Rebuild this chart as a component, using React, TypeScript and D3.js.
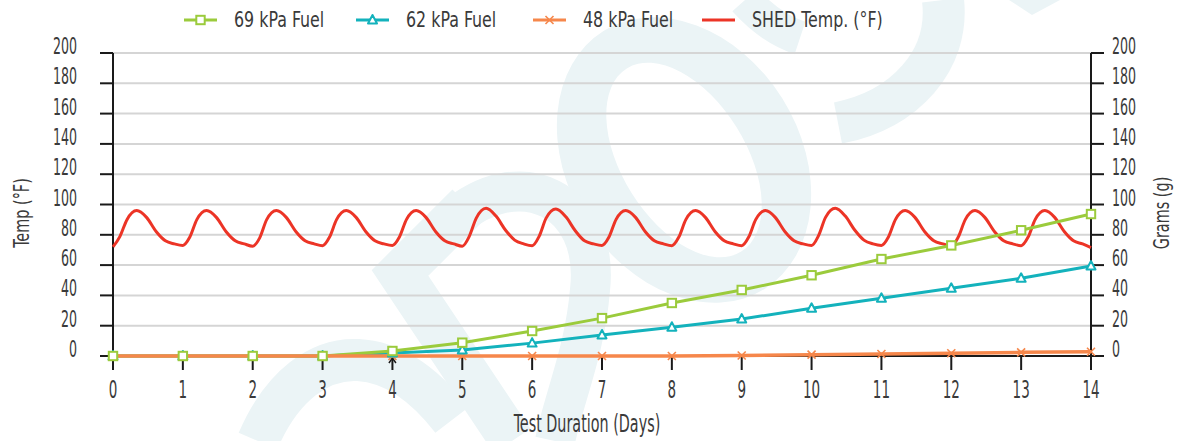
import React from 'react';
import * as d3 from 'd3';

// ---------- DATA ----------
const days = [0, 1, 2, 3, 4, 5, 6, 7, 8, 9, 10, 11, 12, 13, 14];
const fuel69 = [0, 0, 0, 0, 3.3, 8.8, 16.5, 25, 35, 43.6, 53.3, 64, 73, 83, 93.7];
const fuel62 = [0, 0, 0, 0, 2, 4, 8.5, 13.9, 19, 24.4, 31.5, 38.1, 44.7, 51.3, 59.4];
const fuel48 = [0, 0, 0, 0, 0, 0, 0, 0, 0, 0.3, 0.9, 1.3, 1.8, 2.4, 2.8];

// SHED temperature samples within each day (fraction of a day)
const tempPhase = [0, 0.1, 0.2, 0.34, 0.48, 0.62, 0.75, 0.88];
const tempDay0 = [72, 79, 90, 96, 91.5, 82, 76, 74];
const tempDay1 = [73, 78.5, 90, 96, 91.5, 82, 76, 74];
const tempDay2 = [72.5, 78, 90, 96, 91.5, 82, 76, 74];
const tempDay3 = [72.8, 78.5, 90, 96, 91.5, 82, 76, 74];
const tempDay4 = [73, 78.5, 90, 96, 91.5, 82, 76, 74];
const tempDay5 = [72.5, 79, 91, 97.5, 92.5, 83, 76.5, 74];
const tempDay6 = [72.8, 79, 91, 97, 92, 82.5, 76, 74];
const tempDay7 = [73, 78.5, 90, 96, 91.5, 82, 76, 74];
const tempDay8 = [72.8, 78.5, 90, 96, 91.5, 82, 76, 74];
const tempDay9 = [72.8, 78.5, 90, 96, 91.5, 82, 76, 74];
const tempDay10 = [73, 79.5, 91.5, 97.5, 92.5, 83, 76.5, 74];
const tempDay11 = [73, 78.5, 90, 96, 91.5, 82, 76, 74];
const tempDay12 = [72.5, 78.5, 90, 96, 91.5, 82, 76, 74];
const tempDay13 = [72.8, 78.5, 90, 96, 91.5, 82, 76, 74];
const tempEnd = 71.5;
const tempRows = [tempDay0, tempDay1, tempDay2, tempDay3, tempDay4, tempDay5, tempDay6,
  tempDay7, tempDay8, tempDay9, tempDay10, tempDay11, tempDay12, tempDay13];

const yTicks = [0, 20, 40, 60, 80, 100, 120, 140, 160, 180, 200];
const legendLabels = ['69 kPa Fuel', '62 kPa Fuel', '48 kPa Fuel', 'SHED Temp. (°F)'];
const xTitle = 'Test Duration (Days)';
const yLeftTitle = 'Temp (°F)';
const yRightTitle = 'Grams (g)';

// ---------- STYLE ----------
const C69 = '#9bcb3c';
const C62 = '#13b2bc';
const C48 = '#f6874b';
const CT = '#ec3426';
const TXT = '#3a3a3a';
const FONT = '"DejaVu Sans Condensed", "DejaVu Sans", sans-serif';

const W = 1178, H = 441;
const X0 = 113, X1 = 1091, Y0 = 356, Y1 = 53;

function CText({ x, y, sx = 0.61, size = 23, anchor = 'middle', rotate = 0, children }: any) {
  return (
    <g transform={`translate(${x},${y}) rotate(${rotate}) scale(${sx},1)`}>
      <text x={0} y={0} textAnchor={anchor} fontSize={size} fill={TXT} fontFamily={FONT} fontStretch="condensed">{children}</text>
    </g>
  );
}

function Square({ x, y, color }: any) {
  return <rect x={x - 4.2} y={y - 4.2} width={8.4} height={8.4} fill="#fff" stroke={color} strokeWidth={2} />;
}
function Tri({ x, y, color }: any) {
  return <path d={`M${x},${y - 5} L${x + 4.5},${y + 3.5} L${x - 4.5},${y + 3.5} Z`} fill="#fff" stroke={color} strokeWidth={2} strokeLinejoin="round" />;
}
function Cross({ x, y, color }: any) {
  return <path d={`M${x - 4},${y - 4} L${x + 4},${y + 4} M${x + 4},${y - 4} L${x - 4},${y + 4}`} stroke={color} strokeWidth={1.6} />;
}

export default function App() {
  const x = d3.scaleLinear().domain([0, 14]).range([X0, X1]);
  const yL = d3.scaleLinear().domain([0, 200]).range([Y0, Y1]);
  const yR = d3.scaleLinear().domain([0, 200]).range([Y0, Y1]);

  const tempPts: [number, number][] = [];
  tempRows.forEach((row, d) => row.forEach((v, i) => tempPts.push([d + tempPhase[i], v])));
  tempPts.push([14, tempEnd]);

  const tempLine = d3.line<[number, number]>().x(p => x(p[0])).y(p => yL(p[1])).curve(d3.curveMonotoneX);
  const fuelLine = (vals: number[]) =>
    d3.line<number>().x((_, i) => x(days[i])).y(v => yR(v))(vals) as string;

  const legendX = [184, 356, 533, 702];
  const legendColors = [C69, C62, C48, CT];
  const wm = '#ebf4f6';

  return (
    <svg width={W} height={H} style={{ position: 'absolute', left: 0, top: 0, background: '#fff' }}>
      {/* watermark */}
      <g fill={wm} stroke="none">
        <g transform="translate(684,160) rotate(-32)">
          <path fillRule="evenodd" d="M -116 0 A 116 152 0 1 0 116 0 A 116 152 0 1 0 -116 0 Z M -62 0 A 62 108 0 1 1 62 0 A 62 108 0 1 1 -62 0 Z" />
        </g>
      </g>
      <g fill="none" stroke={wm} strokeLinecap="butt" strokeLinejoin="miter">
        <path d="M 512 441 L 400 273 L 468 205" strokeWidth={44} />
        <path d="M 452 220 C 520 160 600 200 590 290 C 585 350 565 395 555 441" strokeWidth={40} />
        <path d="M 258 441 C 282 385 320 358 358 360 C 395 362 425 385 452 420" strokeWidth={42} />
        <path d="M 943 0 C 950 60 905 110 838 123" strokeWidth={42} />
        <path d="M 745 0 Q 770 28 800 38" strokeWidth={34} />
      </g>
      <path d="M 1009 0 L 1060 0 L 1032 15 Z" fill={wm} />

      {/* gridlines */}
      {yTicks.filter(t => t > 0).map(t => (
        <line key={'g' + t} x1={X0} x2={X1} y1={yL(t)} y2={yL(t)} stroke="#d5d5d5" strokeWidth={2} />
      ))}

      {/* axes */}
      <line x1={X0} x2={X0} y1={Y1} y2={370} stroke="#1a1a1a" strokeWidth={2} />
      <line x1={X1} x2={X1} y1={Y1} y2={370} stroke="#1a1a1a" strokeWidth={2} />
      <line x1={X0} x2={X1} y1={Y0} y2={Y0} stroke="#1a1a1a" strokeWidth={2} />
      {yTicks.map(t => (
        <g key={'t' + t}>
          <line x1={100} x2={X0} y1={yL(t)} y2={yL(t)} stroke="#1a1a1a" strokeWidth={2} />
          <line x1={X1} x2={1104} y1={yR(t)} y2={yR(t)} stroke="#1a1a1a" strokeWidth={2} />
          <CText x={77} y={yL(t) + 1} anchor="end">{t}</CText>
          <CText x={1112} y={yR(t) + 1} anchor="start">{t}</CText>
        </g>
      ))}
      {days.map(d => (
        <g key={'x' + d}>
          <line x1={x(d)} x2={x(d)} y1={Y0} y2={370} stroke="#1a1a1a" strokeWidth={2} />
          <CText x={x(d)} y={398} size={25} sx={0.6}>{d}</CText>
        </g>
      ))}
      <path d={`M${x(4) - 3.5},${Y0 + 7} L${x(4)},${Y0 + 2} L${x(4) + 3.5},${Y0 + 7}`} fill="none" stroke="#1a1a1a" strokeWidth={1.5} />

      <CText x={587} y={432} size={24} sx={0.665}>{xTitle}</CText>
      <CText x={29} y={213} size={22} sx={0.73} rotate={-90}>{yLeftTitle}</CText>
      <CText x={1169} y={213} size={22} sx={0.73} rotate={-90}>{yRightTitle}</CText>

      {/* series */}
      <path d={tempLine(tempPts) as string} fill="none" stroke={CT} strokeWidth={3} />
      <path d={fuelLine(fuel62)} fill="none" stroke={C62} strokeWidth={3} />
      <path d={fuelLine(fuel69)} fill="none" stroke={C69} strokeWidth={3} />
      <path d={fuelLine(fuel48)} fill="none" stroke={C48} strokeWidth={3.5} />
      {fuel48.map((v, i) => <Cross key={'c' + i} x={x(days[i])} y={yR(v)} color={C48} />)}
      {fuel62.map((v, i) => <Tri key={'tr' + i} x={x(days[i])} y={yR(v)} color={C62} />)}
      {fuel69.map((v, i) => <Square key={'s' + i} x={x(days[i])} y={yR(v)} color={C69} />)}

      {/* legend */}
      {legendLabels.map((lab, i) => {
        const lx = legendX[i];
        const c = legendColors[i];
        return (
          <g key={lab}>
            <line x1={lx} x2={lx + 33} y1={20} y2={20} stroke={c} strokeWidth={3} />
            {i === 0 && <Square x={lx + 16.5} y={20} color={c} />}
            {i === 1 && <Tri x={lx + 16.5} y={20} color={c} />}
            {i === 2 && <Cross x={lx + 16.5} y={20} color={c} />}
            <CText x={lx + 50} y={27} size={20.5} sx={0.86} anchor="start">{lab}</CText>
          </g>
        );
      })}
    </svg>
  );
}
